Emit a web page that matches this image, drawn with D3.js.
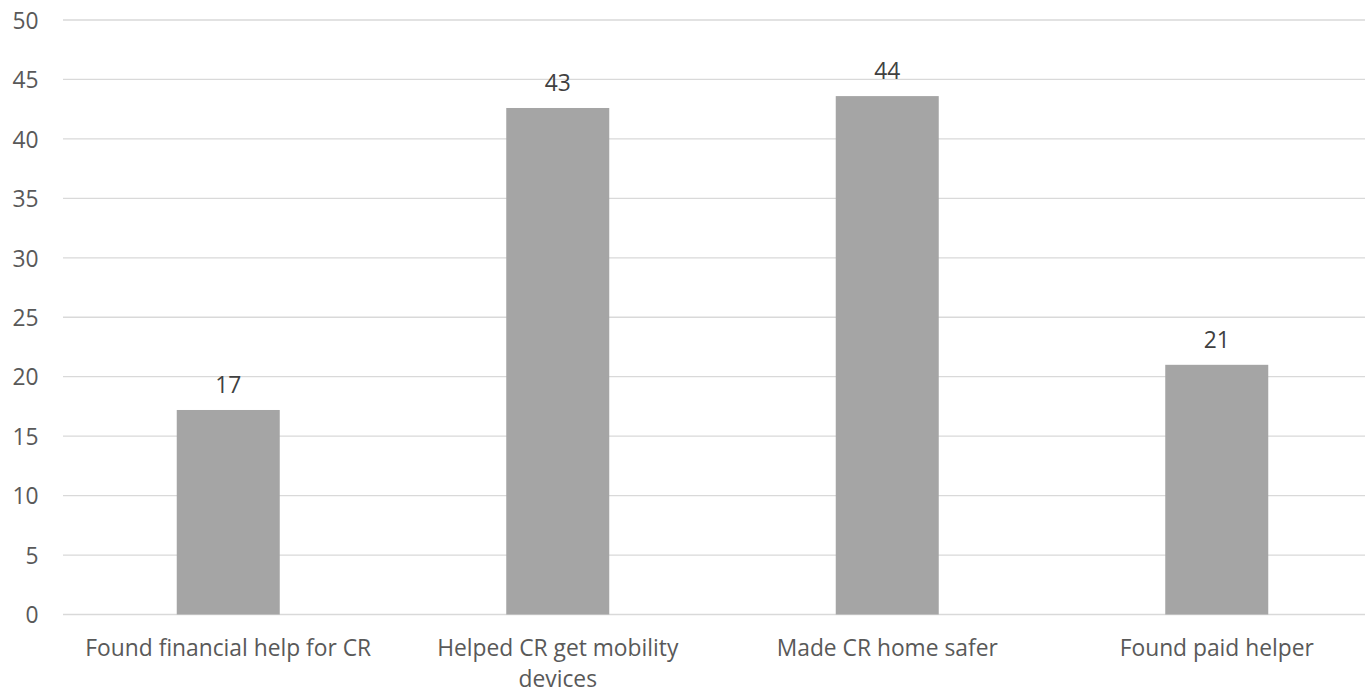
<!DOCTYPE html>
<html>
<head>
<meta charset="utf-8">
<script src="https://cdn.jsdelivr.net/npm/d3@7"></script>
<style>
  html, body { margin: 0; padding: 0; background: #ffffff; }
  svg { display: block; }
  text { font-family: "Open Sans", "Noto Sans", sans-serif; }
</style>
</head>
<body>
<script>
const categories = ["Found financial help for CR", "Helped CR get mobility devices", "Made CR home safer", "Found paid helper"];
const values = [17.2, 42.6, 43.6, 21.0];
const valueLabels = ["17", "43", "44", "21"];
const yTicks = [0, 5, 10, 15, 20, 25, 30, 35, 40, 45, 50];

const W = 1365, H = 693;
const FS = "22.8px";
const svg = d3.select("body").append("svg").attr("width", W).attr("height", H);

const x = d3.scaleBand().domain(categories).range([63.5, 1381.5]).paddingInner(0.6874).paddingOuter(0.3437);
const y = d3.scaleLinear().domain([0, 50]).range([614.5, 20]);

// gridlines
svg.append("g").selectAll("line").data(yTicks).join("line")
  .attr("x1", 63).attr("x2", W)
  .attr("y1", d => y(d)).attr("y2", d => y(d))
  .attr("stroke", "#d9d9d9").attr("stroke-width", 1.3);

// y axis labels
const yAxis = d3.axisLeft(y).tickValues(yTicks).tickSize(0).tickPadding(0);
const gy = svg.append("g").attr("transform", "translate(38.5,0)").call(yAxis);
gy.select(".domain").remove();
gy.selectAll("text").attr("fill", "#595959").style("font-size", FS).attr("dy", "0.36em");

// bars
svg.append("g").selectAll("rect").data(values).join("rect")
  .attr("x", (d, i) => x(categories[i]))
  .attr("width", x.bandwidth())
  .attr("y", d => y(d))
  .attr("height", d => y(0) - y(d))
  .attr("fill", "#a5a5a5");

// data labels
svg.append("g").selectAll("text").data(values).join("text")
  .attr("x", (d, i) => x(categories[i]) + x.bandwidth() / 2)
  .attr("y", d => y(d) - 17)
  .attr("text-anchor", "middle")
  .attr("fill", "#404040")
  .style("font-size", FS)
  .text((d, i) => valueLabels[i]);

// category labels with wrapping
const xAxis = d3.axisBottom(x).tickSize(0).tickPadding(0);
const gx = svg.append("g").call(xAxis);
gx.select(".domain").remove();
gx.selectAll("text").each(function(d) {
  const t = d3.select(this);
  t.text(null).attr("fill", "#595959").style("font-size", FS).attr("y", 0).attr("dy", null);
  const words = d.split(" ");
  const maxW = 300;
  let lines = [];
  let cur = [];
  const probe = t.append("tspan");
  words.forEach(w => {
    const trial = cur.concat([w]).join(" ");
    probe.text(trial);
    if (probe.node().getComputedTextLength() > maxW && cur.length) {
      lines.push(cur.join(" "));
      cur = [w];
    } else {
      cur.push(w);
    }
  });
  lines.push(cur.join(" "));
  probe.remove();
  lines.forEach((ln, i) => {
    t.append("tspan").attr("x", 0).attr("y", 656 + i * 31).text(ln);
  });
});
</script>
</body>
</html>
